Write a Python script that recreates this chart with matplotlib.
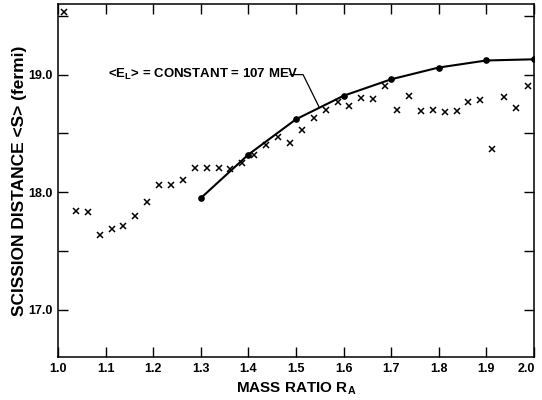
import numpy as np
import matplotlib
matplotlib.use('Agg')
import matplotlib.pyplot as plt
import matplotlib.transforms as mtransforms

# measured points (crosses)
ra_meas = [1.0125, 1.0375, 1.0625, 1.0875, 1.1125, 1.1375, 1.1625, 1.1875,
           1.2125, 1.2375, 1.2625, 1.2875, 1.3125, 1.3375, 1.3625, 1.3875,
           1.4125, 1.4375, 1.4625, 1.4875, 1.5125, 1.5375, 1.5625, 1.5875,
           1.6125, 1.6375, 1.6625, 1.6875, 1.7125, 1.7375, 1.7625, 1.7875,
           1.8125, 1.8375, 1.8625, 1.8875, 1.9125, 1.9375, 1.9625, 1.9875]
s_meas = [19.53, 17.84, 17.83, 17.64, 17.69, 17.71, 17.80, 17.92,
          18.06, 18.06, 18.10, 18.21, 18.21, 18.21, 18.20, 18.25,
          18.32, 18.40, 18.47, 18.42, 18.53, 18.63, 18.70, 18.77,
          18.73, 18.80, 18.79, 18.90, 18.70, 18.82, 18.69, 18.70,
          18.68, 18.69, 18.77, 18.78, 18.37, 18.81, 18.72, 18.90]

# constant E_L curve (dots)
ra_calc = [1.3, 1.4, 1.5, 1.6, 1.7, 1.8, 1.9, 2.0]
s_calc = [17.95, 18.32, 18.62, 18.82, 18.96, 19.06, 19.12, 19.13]

xticks = [1.0, 1.1, 1.2, 1.3, 1.4, 1.5, 1.6, 1.7, 1.8, 1.9, 2.0]
yticks = [17.0, 18.0, 19.0]

plt.rcParams['font.family'] = ['Liberation Sans', 'DejaVu Sans']
plt.rcParams['font.weight'] = 'bold'
plt.rcParams['mathtext.default'] = 'regular'

fig = plt.figure(figsize=(5.42, 4.0), dpi=100)
ax = fig.add_axes([0.107, 0.1075, 0.878, 0.8825])

ax.plot(ra_meas, s_meas, 'kx', markersize=4.5, markeredgewidth=1.1)
ax.plot(ra_calc, s_calc, 'k-', linewidth=1.5)
ax.plot(ra_calc, s_calc, 'ko', markersize=3.8)

ax.set_xlim(1.0, 2.0)
ax.set_ylim(16.6, 19.6)
ax.set_xticks(xticks)
ax.set_xticklabels(['%.1f' % v for v in xticks], fontsize=9, fontweight='bold')
ax.set_yticks(yticks)
ax.set_yticklabels(['%.1f' % v for v in yticks], fontsize=9, fontweight='bold')
ax.set_yticks([17.5, 18.5, 19.5], minor=True)
ax.tick_params(which='both', direction='in', top=True, right=True,
               length=7.5, width=1.0, pad=4)
for sp in ax.spines.values():
    sp.set_linewidth(1.1)

# last x label sits a little left of its tick
lab = ax.get_xticklabels()[-1]
lab.set_transform(lab.get_transform() + mtransforms.ScaledTranslation(-0.08, 0, fig.dpi_scale_trans))

ax.set_xlabel('MASS RATIO R$_A$', fontsize=11, fontweight='bold', labelpad=4)
ax.set_ylabel('SCISSION DISTANCE <S> (fermi)', fontsize=12.5, fontweight='bold')
ax.yaxis.set_label_coords(-0.066, 0.5)

ax.text(1.105, 19.0, '<E$_L$> = CONSTANT = 107 MEV', fontsize=9.5,
        fontweight='bold', va='center', ha='left')
ax.plot([1.488, 1.515, 1.548], [19.0, 19.0, 18.73], 'k-', linewidth=0.9)

fig.savefig('out.png', dpi=100)
